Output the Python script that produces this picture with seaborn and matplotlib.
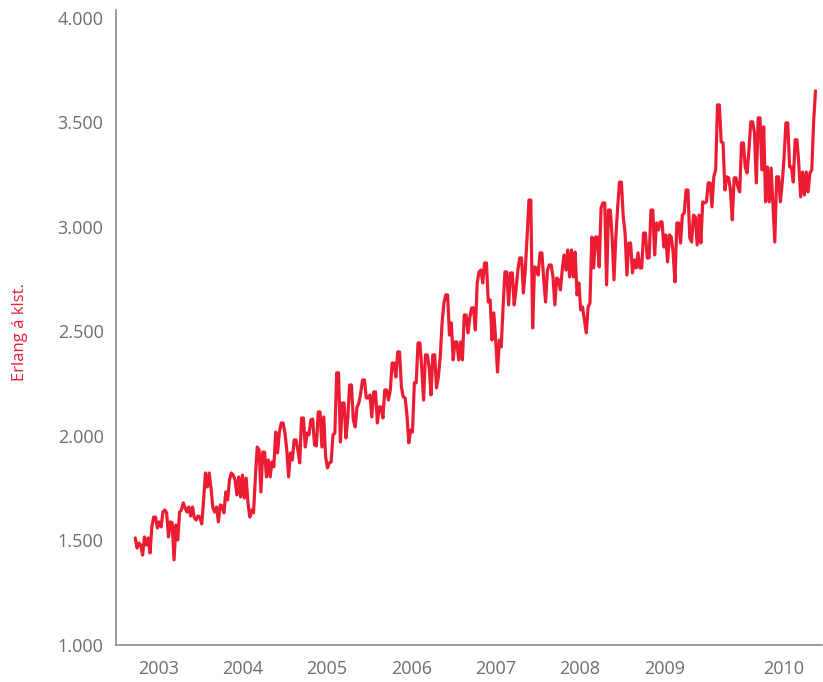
import pandas as pd
import matplotlib.pyplot as plt
import matplotlib.ticker as mticker
import seaborn as sns

# Weekly traffic, Erlang per hour
erlang_seg1 = [1512, 1464, 1488, 1478, 1430, 1517, 1478, 1512, 1440, 1565, 1612, 1612, 1560, 1589,
               1565, 1636, 1646, 1632, 1517, 1589, 1584, 1407, 1574, 1502, 1636, 1646, 1680, 1656,
               1636, 1660, 1617, 1660, 1608, 1598, 1617, 1612, 1579, 1694, 1823, 1756, 1823, 1751,
               1656, 1636, 1660, 1589, 1670, 1665, 1632, 1732, 1694, 1790, 1823, 1813, 1790, 1718,
               1804]
erlang_seg2 = [1708, 1813, 1703, 1799, 1680, 1612, 1646, 1632, 1804, 1947, 1933, 1732, 1923, 1923,
               1804, 1885, 1804, 1876, 1852, 2019, 1919, 2019, 2062, 2062, 2014, 1933, 1804, 1919,
               1885, 1981, 1981, 1933, 1871, 2086, 2086, 1947, 2014, 2005, 2077, 2081, 1957, 1952,
               2115, 2115, 1947, 2091, 1900, 1847, 1871, 1876, 2005, 2014, 2302, 2302, 1971, 2158,
               2158, 1990, 2086, 2244, 2244, 2077, 2043, 2139, 2158, 2206, 2268, 2268, 2182, 2182,
               2196, 2091, 2211, 2211, 2062]
erlang_seg3 = [2139, 2139, 2086, 2220, 2220, 2172, 2220, 2349, 2349, 2282, 2402, 2402, 2234, 2187,
               2182, 2101, 1967, 2029, 2019, 2254, 2254, 2445, 2445, 2325, 2172, 2388, 2388, 2330,
               2196, 2388, 2388, 2230, 2282, 2378, 2541, 2636, 2675, 2675, 2483, 2541, 2364, 2450,
               2450, 2364, 2450, 2364, 2579, 2579, 2493, 2565, 2613, 2613, 2507, 2732, 2785, 2794,
               2732, 2828, 2828, 2641, 2651, 2459, 2589, 2459, 2306, 2459, 2426, 2617, 2785, 2785,
               2627, 2780]
erlang_seg4 = [2780, 2627, 2699, 2794, 2852, 2852, 2684, 2794, 2952, 3129, 3129, 2517, 2809, 2804,
               2770, 2876, 2876, 2747, 2641, 2794, 2818, 2818, 2761, 2627, 2756, 2747, 2699, 2794,
               2866, 2794, 2890, 2761, 2890, 2761, 2880, 2675, 2732, 2603, 2617, 2555, 2493, 2617,
               2636, 2952, 2804, 2952, 2952, 2809, 3091, 3115, 3115, 2723, 3081, 3081, 2948, 2747,
               2952, 3096, 3215, 3215, 3048, 2971, 2770, 2923, 2923, 2780, 2842, 2804, 2876, 2804,
               2804, 2971, 2971, 2852, 2852]
erlang_seg5 = [3081, 3081, 2866, 3019, 2986, 3024, 3024, 2904, 2962, 2833, 2962, 2952, 2876, 2737,
               3019, 3019, 2923, 3057, 3067, 3177, 3177, 2948, 2928, 3057, 3048, 2914, 3057, 2923,
               3120, 3115, 3120, 3211, 3211, 3096, 3240, 3273, 3584, 3584, 3407, 3402, 3177, 3240,
               3235, 3177, 3034, 3235, 3235, 3192, 3168, 3402, 3402, 3287, 3258, 3369, 3503, 3503,
               3450, 3211, 3522, 3522, 3273, 3479, 3120, 3287, 3120, 3282, 3105, 2928, 3240, 3240,
               3120, 3211, 3330, 3498, 3498, 3287, 3287, 3215, 3417, 3417, 3297, 3144, 3263, 3153,
               3263, 3168, 3258, 3273, 3503, 3651]

erlang = erlang_seg1 + erlang_seg2 + erlang_seg3 + erlang_seg4 + erlang_seg5
first_week = "2002-09-23"
last_week = "2010-10-17"

year_labels = ["2003", "2004", "2005", "2006", "2007", "2008", "2009", "2010"]
year_ticks = ["2003-01-01", "2004-01-01", "2005-01-01", "2006-01-01",
              "2007-01-01", "2008-01-01", "2009-01-01", "2010-06-01"]

df = pd.DataFrame({
    "week": pd.date_range(first_week, last_week, periods=len(erlang)),
    "erlang": erlang,
})

sns.set_style("white")
plt.rcParams["font.family"] = ["Open Sans", "DejaVu Sans"]

red = "#ec1c33"
grey = "#6e6e6e"

fig = plt.figure(figsize=(8.23, 6.82), dpi=100)
ax = fig.add_axes([0.141, 0.0543, 0.858, 0.931])

sns.lineplot(data=df, x="week", y="erlang", color=red, linewidth=2.3, ax=ax)

ax.set_xlim(pd.Timestamp("2002-07-02"), pd.Timestamp("2010-11-15"))
ax.set_ylim(1000, 4038)
ax.set_yticks([1000, 1500, 2000, 2500, 3000, 3500, 4000])
ax.yaxis.set_major_formatter(mticker.FuncFormatter(lambda v, p: f"{v:,.0f}".replace(",", ".")))
ax.set_xticks(pd.to_datetime(year_ticks))
ax.set_xticklabels(year_labels)

ax.tick_params(axis="both", length=0, labelsize=13, labelcolor=grey)
ax.tick_params(axis="y", pad=9)
ax.tick_params(axis="x", pad=11)

for side in ["top", "right"]:
    ax.spines[side].set_visible(False)
for side in ["left", "bottom"]:
    ax.spines[side].set_color("#8a8a8a")
    ax.spines[side].set_linewidth(1.2)

ax.set_xlabel("")
ax.set_ylabel("")
fig.text(0.024, 0.513, "Erlang á klst.", rotation=90, color=red, fontsize=12,
         ha="center", va="center")

fig.savefig("out.png", dpi=100)
